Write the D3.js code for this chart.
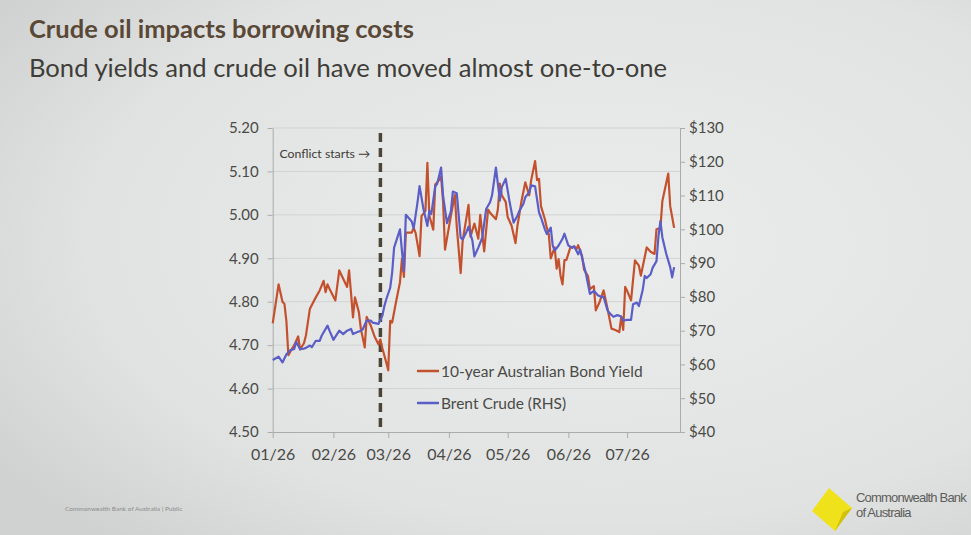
<!DOCTYPE html>
<html>
<head>
<meta charset="utf-8">
<script src="https://cdn.jsdelivr.net/npm/d3@7"></script>
<style>
  body { margin: 0; background: #e2e4e3; }
  svg { display: block; }
</style>
</head>
<body>
<svg id="chart" width="971" height="535"></svg>
<script>
// 10y bond yield (LHS) and Brent crude (RHS), 2026

const bondDates = ["01-01","01-04","01-06","01-07","01-08","01-09","01-10","01-12","01-14","01-15","01-17","01-18","01-20","01-23","01-25","01-27","01-28","01-29","01-30",
  "02-02","02-04","02-06","02-08","02-09","02-10","02-11","02-12","02-14","02-15","02-17","02-18","02-20","02-22","02-24","02-25","02-26","02-28",
  "03-01","03-02","03-03","03-05","03-07","03-08","03-09","03-10","03-13","03-14","03-15","03-17","03-18","03-20","03-21","03-22","03-24","03-25","03-27","03-28","03-29","03-30",
  "04-02","04-04","04-05","04-07","04-08","04-11","04-12","04-14","04-16","04-17","04-19","04-21","04-22","04-25","04-26","04-27","04-28","04-30",
  "05-01","05-03","05-05","05-06","05-08","05-10","05-12","05-13","05-15","05-16","05-17","05-18","05-20","05-21","05-22","05-23","05-25","05-26","05-27","05-28","05-29","05-30","05-31",
  "06-02","06-04","06-05","06-06","06-08","06-09","06-11","06-12","06-14","06-15","06-17","06-19","06-21","06-22","06-23","06-25","06-27","06-28","06-29","06-30",
  "07-01","07-03","07-05","07-07","07-08","07-11","07-13","07-15","07-16","07-18","07-19","07-22","07-23","07-25"];
const bondYield = [4.75,4.84,4.80,4.795,4.755,4.677,4.685,4.70,4.72,4.69,4.705,4.723,4.784,4.81,4.826,4.848,4.822,4.84,4.83,
  4.803,4.872,4.853,4.834,4.872,4.82,4.764,4.81,4.776,4.738,4.695,4.765,4.746,4.72,4.702,4.713,4.693,4.66,
  4.642,4.756,4.752,4.80,4.845,4.899,4.857,4.959,4.959,4.97,4.958,4.905,4.997,5.009,5.12,4.998,4.966,5.07,5.08,5.088,5.03,4.92,
  4.998,5.046,4.973,4.866,4.94,5.023,4.95,4.98,4.945,5.0,4.916,5.012,5.005,4.99,5.013,5.072,5.045,5.03,
  4.995,4.975,4.935,4.975,5.03,5.075,5.045,5.08,5.124,5.08,5.083,5.02,4.99,4.97,4.955,4.9,4.925,4.876,4.898,4.86,4.84,4.896,4.896,
  4.925,4.927,4.92,4.93,4.905,4.874,4.859,4.829,4.836,4.78,4.80,4.826,4.784,4.761,4.738,4.735,4.73,4.765,4.735,4.834,
  4.825,4.803,4.895,4.883,4.86,4.925,4.915,4.91,4.967,4.97,5.032,5.095,5.02,4.97];

const brentDates = ["01-01","01-04","01-06","01-08","01-10","01-12","01-13","01-15","01-17","01-18","01-20","01-21","01-23","01-25","01-26","01-29","01-30",
  "02-01","02-04","02-06","02-08","02-10","02-11","02-13","02-15","02-16","02-18","02-20","02-21","02-24","02-26","02-27","02-28",
  "03-02","03-03","03-04","03-07","03-08","03-09","03-10","03-13","03-14","03-16","03-17","03-19","03-21","03-22","03-23","03-25","03-26","03-28","03-29","03-31",
  "04-02","04-03","04-05","04-07","04-08","04-10","04-11","04-13","04-14","04-16","04-18","04-20","04-22","04-23","04-25","04-26","04-27","04-28","04-30",
  "05-02","05-04","05-06","05-07","05-09","05-10","05-12","05-13","05-15","05-17","05-18","05-20","05-21","05-23","05-24","05-25","05-27","05-29","05-30",
  "06-01","06-03","06-04","06-06","06-07","06-08","06-10","06-12","06-14","06-16","06-18","06-19","06-21","06-22","06-24","06-26","06-28","06-29",
  "07-01","07-03","07-04","07-06","07-07","07-09","07-10","07-11","07-13","07-14","07-16","07-17","07-18","07-19","07-21","07-23","07-24","07-25"];
const brentPrice = [61.3,62.3,60.6,63,64.2,64.6,66.7,64.5,64.7,64.9,65.6,65.1,67,67,68.5,71.5,70,
  67.3,70,69,70,70.5,69,69.5,70,70.4,73,73,72.4,72,74.4,77.2,79.3,
  82.7,87.2,94.6,100,93.6,87.7,104.3,102.3,100.3,108.2,112.8,106,101,105.5,104.5,112.7,113.5,118.3,110,101.8,
  105.3,111.2,110.7,97.5,97,99.3,100.8,96.6,92,94.6,97.5,106,108,110,118.3,113.4,108.5,112.5,115,
  108,102,104,105.5,107.5,109.5,111,113,112.7,105,103.5,100,98.6,100.5,95.2,93.7,95.2,97.2,98.7,
  95.2,94.5,95,92.6,94,91.6,86.8,80.9,81.8,80.5,80,80,76,75.2,74.1,74.6,74.2,73,
  73.2,73.2,77.8,78.3,77.3,82.2,86.2,85.6,86.7,88.6,90.6,98,102.4,97.6,92.7,88.8,85.8,88.8];

const monthTicks = ["01-01","02-01","03-01","04-01","05-01","06-01","07-01"];
const yieldTicks = [4.5,4.6,4.7,4.8,4.9,5.0,5.1,5.2];
const brentTicks = [40,50,60,70,80,90,100,110,120,130];
const seriesNames = ["10-year Australian Bond Yield","Brent Crude (RHS)"];
const conflictDate = "02-25";

const red = "#c4512d";
const blue = "#5a5ec6";
const ink = "#4a4a46";

const parse = d3.timeParse("%Y-%m-%d");
const day = s => parse("2026-" + s);

const svg = d3.select("#chart");

// photo-ish background
const defs = svg.append("defs");
const grad = defs.append("radialGradient").attr("id", "bg")
   .attr("cx", "62%").attr("cy", "45%").attr("r", "75%");
grad.append("stop").attr("offset", "0%").attr("stop-color", "#ebedec");
grad.append("stop").attr("offset", "70%").attr("stop-color", "#e1e3e2");
grad.append("stop").attr("offset", "100%").attr("stop-color", "#d0d2d1");
svg.append("rect").attr("width", 971).attr("height", 535).attr("fill", "url(#bg)");

// titles
svg.append("text").text("Crude oil impacts borrowing costs")
   .attr("x", 29).attr("y", 38).attr("font-family", "Lato").attr("font-weight", "bold")
   .attr("font-size", 25.5).attr("fill", "#5a4837");
svg.append("text").text("Bond yields and crude oil have moved almost one-to-one")
   .attr("x", 29).attr("y", 77).attr("font-family", "Lato")
   .attr("font-size", 25.6).attr("fill", "#3f3d38");

// scales
const x = d3.scaleTime().domain([day("01-01"), day("07-28")]).range([272.7, 680]);
const yL = d3.scaleLinear().domain([4.5, 5.2]).range([432, 128]);
const yR = d3.scaleLinear().domain([40, 130]).range([432, 128]);

const g = svg.append("g").attr("font-family", "Lato");

// gridlines
g.selectAll("line.grid").data(yieldTicks.slice(1)).enter().append("line")
   .attr("class", "grid").attr("x1", x.range()[0]).attr("x2", x.range()[1])
   .attr("y1", d => yL(d)).attr("y2", d => yL(d))
   .attr("stroke", "#d0d3d2").attr("stroke-width", 1);

function styleAxis(sel, size) {
   sel.selectAll("path, line").attr("stroke", "#a9acab");
   sel.selectAll("text").attr("fill", ink).attr("font-size", size).attr("font-family", "Lato");
}

g.append("g").attr("transform", "translate(" + x.range()[0] + ",0)")
   .call(d3.axisLeft(yL).tickValues(yieldTicks).tickFormat(d3.format(".2f"))
         .tickSizeInner(5).tickSizeOuter(0).tickPadding(9))
   .call(styleAxis, 15);

g.append("g").attr("transform", "translate(" + x.range()[1] + ",0)")
   .call(d3.axisRight(yR).tickValues(brentTicks).tickFormat(d => "$" + d)
         .tickSizeInner(5).tickSizeOuter(0).tickPadding(4))
   .call(styleAxis, 15);

g.append("g").attr("transform", "translate(0," + yL.range()[0] + ")")
   .call(d3.axisBottom(x).tickValues(monthTicks.map(day)).tickFormat(d3.timeFormat("%m/%y"))
         .tickSizeInner(6).tickSizeOuter(0).tickPadding(11))
   .call(styleAxis, 16);

// conflict marker
const cx = x(day(conflictDate));
g.append("line").attr("x1", cx).attr("x2", cx).attr("y1", 133).attr("y2", yL.range()[0])
   .attr("stroke", "#4b4536").attr("stroke-width", 3.5).attr("stroke-dasharray", "9,6");
g.append("text").text("Conflict starts \u2192").attr("x", cx - 10).attr("y", 158)
   .attr("text-anchor", "end").attr("font-size", 12.3).attr("fill", "#3d3b36");

// series
const bond = bondDates.map((d, i) => ({date: day(d), v: bondYield[i]}));
const brent = brentDates.map((d, i) => ({date: day(d), v: brentPrice[i]}));

g.append("path").datum(bond)
   .attr("d", d3.line().x(d => x(d.date)).y(d => yL(d.v)))
   .attr("fill", "none").attr("stroke", red).attr("stroke-width", 2.2).attr("stroke-linejoin", "round");
g.append("path").datum(brent)
   .attr("d", d3.line().x(d => x(d.date)).y(d => yR(d.v)))
   .attr("fill", "none").attr("stroke", blue).attr("stroke-width", 2.2).attr("stroke-linejoin", "round");

// legend
const colours = [red, blue];
seriesNames.forEach((name, i) => {
   const ly = 371 + i * 32;
   g.append("line").attr("x1", 417).attr("x2", 439).attr("y1", ly).attr("y2", ly)
      .attr("stroke", colours[i]).attr("stroke-width", 2.5);
   g.append("text").text(name).attr("x", 441).attr("y", ly + 6)
      .attr("font-size", 15.5).attr("fill", ink);
});

// footer
svg.append("text").text("Commonwealth Bank of Australia  |  Public")
   .attr("x", 65).attr("y", 511).attr("font-family", "Lato").attr("font-size", 6.5)
   .attr("fill", "#8b8d8c");

// CBA mark
svg.append("path").attr("d", "M 829 488 L 852 508 L 835 531 L 812 511 Z").attr("fill", "#f0e21a");
svg.append("path").attr("d", "M 852 508 L 835 531 L 843 512 Z").attr("fill", "#cfc012");
svg.append("text").text("Commonwealth Bank").attr("x", 856).attr("y", 502)
   .attr("font-family", "Liberation Sans").attr("font-size", 13).attr("letter-spacing", -0.8)
   .attr("fill", "#5d5d5b");
svg.append("text").text("of Australia").attr("x", 856).attr("y", 517)
   .attr("font-family", "Liberation Sans").attr("font-size", 13).attr("letter-spacing", -0.8)
   .attr("fill", "#5d5d5b");
</script>
</body>
</html>
